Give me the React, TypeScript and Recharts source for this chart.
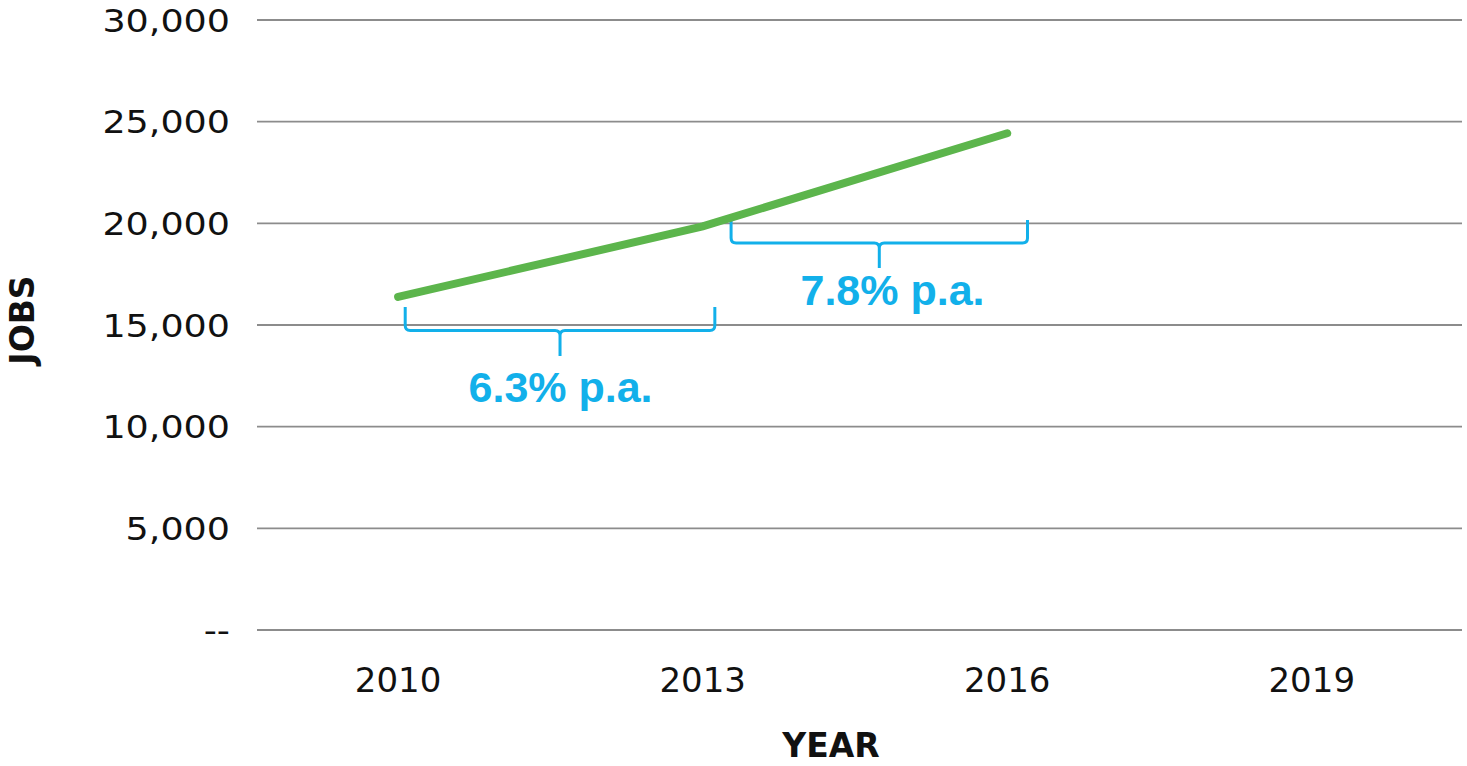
import { LineChart, Line, XAxis, YAxis, CartesianGrid, ReferenceArea, ReferenceDot } from 'recharts';

const years = [2010, 2013, 2016];
const jobs = [16380, 19850, 24430];
const xTicks = [2010, 2013, 2016, 2019];
const yTicks = [0, 5000, 10000, 15000, 20000, 25000, 30000];

// growth braces, in data units
const braceFrom = [2010.07, 2013.28];
const braceTo = [2013.12, 2016.2];
const braceTop = [15886, 20163];
const braceBottom = [13475, 17803];
const growthText = ['6.3% p.a.', '7.8% p.a.'];
const growthX = [2011.6, 2014.87];
const growthY = [11213, 15983];

const GREEN = '#5cb54c';
const BLUE = '#12b0ea';
const GRID = '#8c8c8c';
const FONT = '"DejaVu Sans", sans-serif';

const data = years.map((year, i) => ({ year, jobs: jobs[i] }));

function fmt(v: number) {
  return v === 0 ? '--' : v.toLocaleString('en-US');
}

function YTick(props: any) {
  const { x, y, payload } = props;
  return (
    <text transform={`translate(${x},${y + 11.5}) scale(1.14,1)`} textAnchor="end"
      fontFamily={FONT} fontSize={32} fill="#111">
      {fmt(payload.value)}
    </text>
  );
}

function XTick(props: any) {
  const { x, y, payload } = props;
  return (
    <text x={x} y={y + 62} textAnchor="middle" fontFamily={FONT} fontSize={34} fill="#111">
      {payload.value}
    </text>
  );
}

function Brace(props: any) {
  const { x, y, width: w, height: h } = props;
  const r = 5;
  const yh = y + h * 0.48;
  const cx = x + w / 2;
  const d = [
    `M${x},${y} L${x},${yh - r} Q${x},${yh} ${x + r},${yh} L${cx - r},${yh} Q${cx},${yh} ${cx},${yh + r} L${cx},${y + h}`,
    `M${cx},${yh + r} Q${cx},${yh} ${cx + r},${yh} L${x + w - r},${yh} Q${x + w},${yh} ${x + w},${yh - r} L${x + w},${y}`,
  ].join(' ');
  return <path d={d} fill="none" stroke={BLUE} strokeWidth={3} />;
}

function growthLabel(text: string) {
  return (props: any) => (
    <text x={props.cx} y={props.cy} textAnchor="middle" fontFamily='"Liberation Sans", Arial, sans-serif'
      fontWeight="bold" fontSize={43} fill={BLUE}>
      {text}
    </text>
  );
}

export default function App() {
  return (
    <div style={{ position: 'absolute', left: 0, top: 0, width: 1467, height: 766, background: '#fff' }}>
      <LineChart width={1467} height={766} data={data} margin={{ top: 20, right: 5, bottom: 0, left: 0 }}>
        <CartesianGrid vertical={false} stroke={GRID} strokeWidth={1.8} />
        <XAxis
          dataKey="year"
          type="number"
          domain={[2008.61, 2020.48]}
          ticks={xTicks}
          height={136}
          axisLine={false}
          tickLine={false}
          tickSize={0}
          tickMargin={0}
          tick={<XTick />}
          label={{
            content: () => (
              <text x={831} y={757} textAnchor="middle" fontFamily={FONT} fontWeight="bold" fontSize={33} fill="#111">
                YEAR
              </text>
            ),
          }}
        />
        <YAxis
          type="number"
          domain={[0, 30000]}
          ticks={yTicks}
          width={257}
          axisLine={false}
          tickLine={false}
          tickSize={0}
          tickMargin={27}
          tick={<YTick />}
          label={{
            content: () => (
              <text transform="translate(34,320) rotate(-90)" textAnchor="middle" fontFamily={FONT}
                fontWeight="bold" fontSize={33} fill="#111">
                JOBS
              </text>
            ),
          }}
        />
        {braceFrom.map((x1, i) => (
          <ReferenceArea key={`b${i}`} x1={x1} x2={braceTo[i]} y1={braceBottom[i]} y2={braceTop[i]}
            shape={<Brace />} ifOverflow="visible" />
        ))}
        {growthText.map((t, i) => (
          <ReferenceDot key={`t${i}`} x={growthX[i]} y={growthY[i]} r={0} shape={growthLabel(t)} ifOverflow="visible" />
        ))}
        <Line type="linear" dataKey="jobs" stroke={GREEN} strokeWidth={8} strokeLinecap="round"
          dot={false} activeDot={false} isAnimationActive={false} />
      </LineChart>
    </div>
  );
}
